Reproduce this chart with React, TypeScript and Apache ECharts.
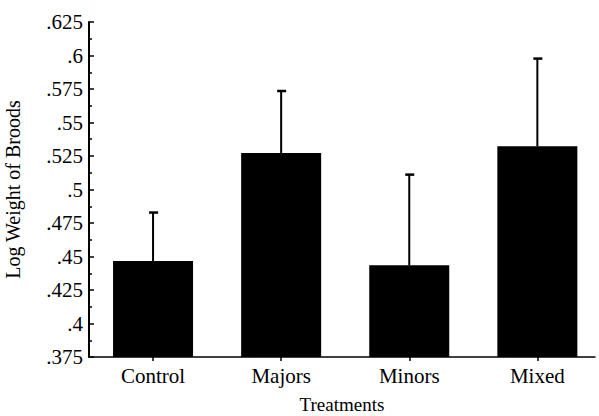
import React, { useEffect, useRef } from "react";
import * as echarts from "echarts";

const categories = ["Control", "Majors", "Minors", "Mixed"];
const means = [0.4466, 0.5272, 0.4434, 0.5322];
const errorTops = [0.4828, 0.5735, 0.5111, 0.5977];
const yTicks = { min: 0.375, max: 0.625, step: 0.025 };

const FONT = "'Liberation Serif', 'Times New Roman', serif";

export default function App() {
  const ref = useRef<HTMLDivElement>(null);
  useEffect(() => {
    if (!ref.current) return;
    const chart = echarts.init(ref.current, undefined, { renderer: "svg" });
    const idx = categories.map((_, i) => i);
    const barData = idx.map((i) => [i, means[i]]);
    const errData = idx.map((i) => [i, means[i], errorTops[i]]);
    chart.setOption({
      animation: false,
      backgroundColor: "#fff",
      grid: { left: 89, right: 4, top: 22, bottom: 59, outerBoundsMode: "none", containLabel: false },
      xAxis: {
        type: "value",
        min: -0.5,
        max: 3.45,
        splitLine: { show: false },
        axisLine: { show: true, onZero: false, lineStyle: { color: "#000", width: 1.5 } },
        axisTick: {
          show: true,
          customValues: idx,
          length: 4,
          inside: false,
          lineStyle: { color: "#000", width: 1.5 },
        },
        axisLabel: {
          customValues: idx,
          formatter: (v: number) => categories[Math.round(v)] ?? "",
          color: "#000",
          fontFamily: FONT,
          fontSize: 21,
          margin: 8,
        },
        name: "Treatments",
        nameLocation: "middle",
        nameGap: 38,
        nameTextStyle: { color: "#000", fontFamily: FONT, fontSize: 19 },
      },
      yAxis: {
        type: "value",
        min: yTicks.min,
        max: yTicks.max,
        interval: yTicks.step,
        splitLine: { show: false },
        axisLine: { show: true, onZero: false, lineStyle: { color: "#000", width: 2 } },
        axisTick: {
          show: true,
          inside: true,
          length: 5,
          lineStyle: { color: "#000", width: 1.5 },
        },
        minorTick: {
          show: true,
          splitNumber: 2,
          length: 3,
          lineStyle: { color: "#000", width: 1.5 },
        },
        axisLabel: {
          showMinLabel: true,
          showMaxLabel: true,
          color: "#000",
          fontFamily: FONT,
          fontSize: 21,
          margin: 6,
          formatter: (v: number) =>
            parseFloat(v.toFixed(3)).toString().replace(/^0/, ""),
        },
        name: "Log Weight of Broods",
        nameLocation: "middle",
        nameRotate: 90,
        nameGap: 66,
        nameTextStyle: { color: "#000", fontFamily: FONT, fontSize: 20 },
      },
      series: [
        {
          type: "custom",
          data: barData,
          clip: true,
          renderItem: (params: any, api: any) => {
            const x = api.value(0);
            const y = api.value(1);
            const top = api.coord([x, y]);
            const base = api.coord([x, yTicks.min]);
            const w = 80;
            return {
              type: "rect",
              shape: { x: top[0] - w / 2, y: top[1], width: w, height: base[1] - top[1] },
              style: { fill: "#000" },
            };
          },
        },
        {
          type: "custom",
          data: errData,
          renderItem: (params: any, api: any) => {
            const x = api.value(0);
            const lo = api.coord([x, api.value(1)]);
            const hi = api.coord([x, api.value(2)]);
            const cap = 4;
            return {
              type: "group",
              children: [
                {
                  type: "line",
                  shape: { x1: lo[0], y1: lo[1], x2: hi[0], y2: hi[1] },
                  style: { stroke: "#000", lineWidth: 2 },
                },
                {
                  type: "line",
                  shape: { x1: hi[0] - cap, y1: hi[1], x2: hi[0] + cap + 1, y2: hi[1] },
                  style: { stroke: "#000", lineWidth: 2.5 },
                },
              ],
            };
          },
        },
      ],
    });
    return () => chart.dispose();
  }, []);
  return (
    <div
      ref={ref}
      style={{ position: "fixed", left: 0, top: 0, width: 599, height: 416 }}
    />
  );
}
